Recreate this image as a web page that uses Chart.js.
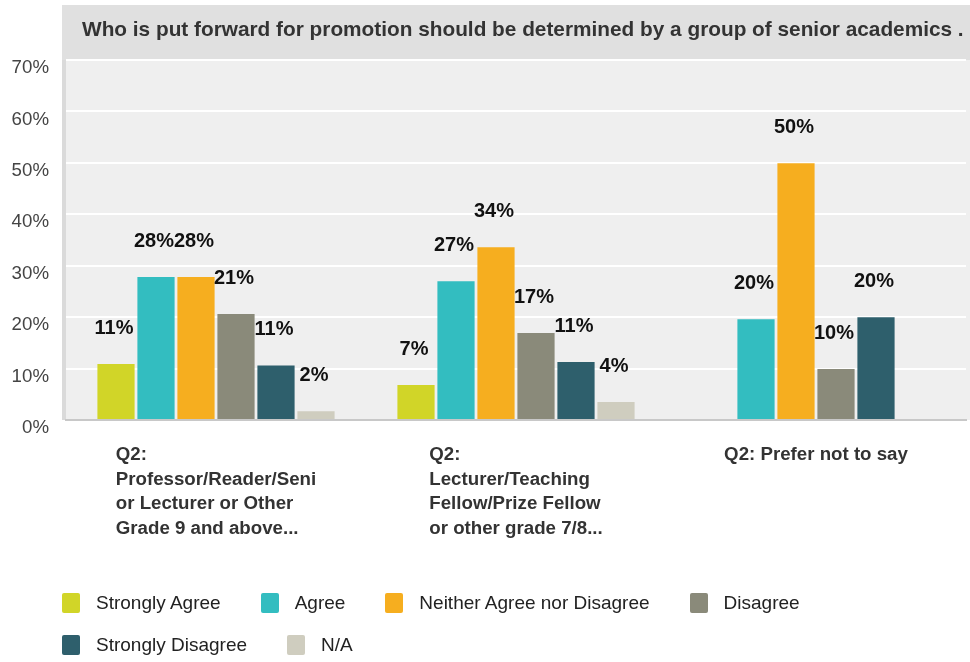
<!DOCTYPE html>
<html>
<head>
<meta charset="utf-8">
<script src="https://cdn.jsdelivr.net/npm/chart.js@4.4.1/dist/chart.umd.min.js"></script>
<style>
  html, body { margin: 0; padding: 0; background: #fff; }
  #wrap { position: relative; width: 970px; height: 662px; }
  #legend {
    position: absolute; left: 62px; top: 592px; width: 900px;
    display: flex; flex-wrap: wrap;
    font: 19px "Liberation Sans", Arial, sans-serif; color: #222;
  }
  .li { display: flex; align-items: center; height: 22px; margin: 0 40px 20px 0; }
  .sw { width: 18px; height: 20px; border-radius: 2px; margin-right: 16px; }
</style>
</head>
<body>
<div id="wrap">
  <canvas id="c" width="970" height="662"></canvas>
  <div id="legend"></div>
</div>
<script>
  /* ── data ── */
  const TITLE = 'Who is put forward for promotion should be determined by a group of senior academics .';
  const categories = [
    ['Q2:', 'Professor/Reader/Seni', 'or Lecturer or Other', 'Grade 9 and above...'],
    ['Q2:', 'Lecturer/Teaching', 'Fellow/Prize Fellow', 'or other grade 7/8...'],
    ['Q2: Prefer not to say'],
  ];
  const seriesNames  = ['Strongly Agree', 'Agree', 'Neither Agree nor Disagree', 'Disagree', 'Strongly Disagree', 'N/A'];
  const seriesColors = ['#d1d528', '#33bdc0', '#f6ae1f', '#8a8a7a', '#2e5f6c', '#cfcdbf'];

  const stronglyAgree    = [10.9, 6.8, null];
  const agree            = [27.8, 27.0, 19.6];
  const neither          = [27.8, 33.6, 49.9];
  const disagree         = [20.6, 16.9, 9.9];
  const stronglyDisagree = [10.6, 11.3, 20.0];
  const notApplicable    = [1.7, 3.5, null];

  const yTicks = [0, 10, 20, 30, 40, 50, 60, 70];

  const seriesValues = [stronglyAgree, agree, neither, disagree, stronglyDisagree, notApplicable];
  const FONT = '"Liberation Sans", Arial, sans-serif';

  /* ── background, title bar, plot area ── */
  const bgPlugin = {
    id: 'bg',
    beforeDraw(chart) {
      const { ctx, chartArea: a } = chart;
      ctx.save();
      ctx.fillStyle = '#e0e0e0';
      ctx.fillRect(62, 5, 908, a.top - 5);
      ctx.fillStyle = '#efefef';
      ctx.fillRect(a.left, a.top, 970 - a.left, a.bottom - a.top);
      ctx.fillStyle = '#dadada';
      ctx.fillRect(62, a.top, 4, a.bottom - a.top);
      ctx.fillStyle = '#333';
      ctx.font = 'bold 20.8px ' + FONT;
      ctx.textBaseline = 'middle';
      ctx.textAlign = 'left';
      ctx.fillText(TITLE, 82, 30);
      ctx.restore();
    },
  };

  /* ── labels: values, categories, y ticks ── */
  const labelPlugin = {
    id: 'labels',
    afterDatasetsDraw(chart) {
      const { ctx } = chart;
      ctx.save();

      // value labels
      ctx.font = 'bold 20px ' + FONT;
      ctx.fillStyle = '#111';
      ctx.textAlign = 'center';
      ctx.textBaseline = 'alphabetic';
      chart.data.datasets.forEach((ds, di) => {
        chart.getDatasetMeta(di).data.forEach((bar, i) => {
          const v = ds.data[i];
          if (v === null || v === undefined) return;
          ctx.fillText(Math.round(v) + '%', bar.x - 2, bar.y - 30);
        });
      });

      // category labels (block centred, lines left aligned)
      const xs = chart.scales.x;
      ctx.font = 'bold 18.7px ' + FONT;
      ctx.fillStyle = '#333';
      ctx.textAlign = 'left';
      ctx.textBaseline = 'middle';
      categories.forEach((lines, i) => {
        const cx = xs.getPixelForValue(i);
        const w = Math.max(...lines.map(l => ctx.measureText(l).width));
        lines.forEach((l, j) => ctx.fillText(l, cx - w / 2, 455 + j * 24.5));
      });

      // y tick labels
      const ys = chart.scales.y;
      ctx.font = '18.7px ' + FONT;
      ctx.fillStyle = '#444';
      ctx.textAlign = 'right';
      yTicks.forEach(t => ctx.fillText(t + '%', 49, ys.getPixelForValue(t) + 8));

      ctx.restore();
    },
  };

  new Chart(document.getElementById('c'), {
    type: 'bar',
    data: {
      labels: categories.map(c => c.join(' ')),
      datasets: seriesNames.map((name, i) => ({
        label: name,
        data: seriesValues[i],
        backgroundColor: seriesColors[i],
        categoryPercentage: 0.8,
        barPercentage: 0.93,
      })),
    },
    options: {
      responsive: false,
      animation: false,
      layout: { padding: { top: 60, bottom: 242, left: 0, right: 4 } },
      plugins: { legend: { display: false }, tooltip: { enabled: false } },
      scales: {
        x: {
          grid: { display: false, drawTicks: false },
          ticks: { display: false },
          border: { color: '#c8c8c8', width: 2 },
          afterFit: s => { s.height = 0; },
        },
        y: {
          min: 0, max: 70,
          ticks: { display: false, stepSize: 10 },
          grid: { color: '#ffffff', lineWidth: 2, drawTicks: false },
          border: { display: false },
          afterFit: s => { s.width = 66; },
        },
      },
    },
    plugins: [bgPlugin, labelPlugin],
  });

  /* ── legend ── */
  const legend = document.getElementById('legend');
  legend.innerHTML = seriesNames.map((n, i) =>
    `<div class="li"><div class="sw" style="background:${seriesColors[i]}"></div><span>${n}</span></div>`
  ).join('');
</script>
</body>
</html>
